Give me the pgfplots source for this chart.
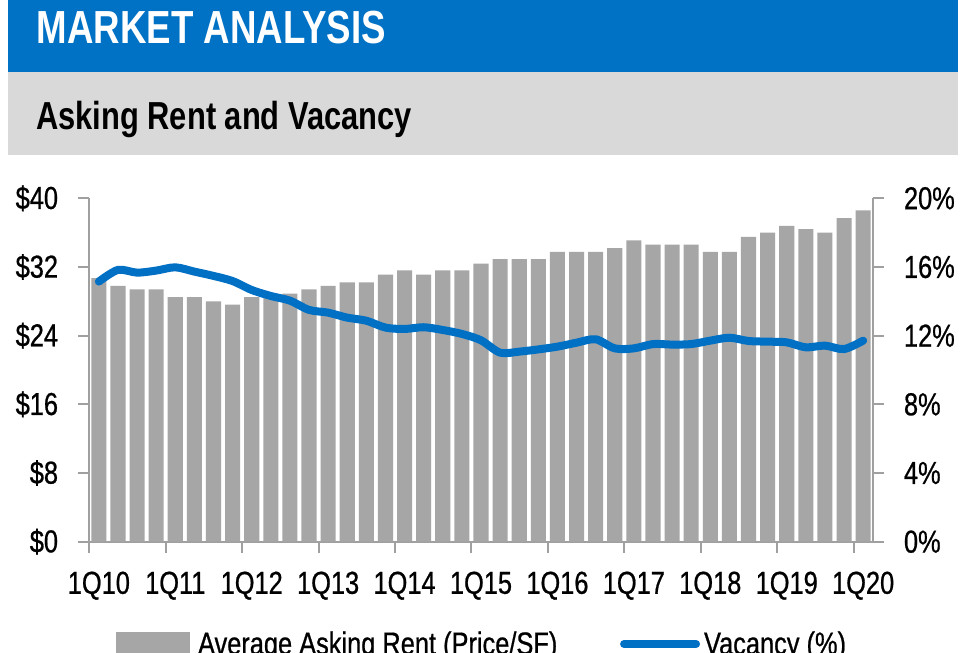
\documentclass[border=0pt]{standalone}
\usepackage{fontspec}
\setmainfont{Liberation Sans}[FakeStretch=0.79]
\newfontfamily\lblfont{Liberation Sans}[FakeStretch=0.8, FakeBold=0.7]
\usepackage{pgfplots}
\usepackage{pgfplotstable}
\pgfplotsset{compat=1.18}

\definecolor{hdrblue}{RGB}{0,114,198}
\definecolor{lineblue}{RGB}{0,112,196}
\definecolor{band}{RGB}{217,217,217}
\definecolor{bargray}{RGB}{166,166,166}
\definecolor{axisgray}{RGB}{160,160,160}

% quarter index (0 = 1Q10), asking rent in $/SF
\pgfplotstableread{
q rent
0 30.7
1 29.8
2 29.4
3 29.4
4 28.5
5 28.5
6 28.0
7 27.6
8 28.5
9 28.6
10 28.9
11 29.4
12 29.8
13 30.2
14 30.2
15 31.1
16 31.6
17 31.1
18 31.6
19 31.6
20 32.4
21 32.9
22 32.9
23 32.9
24 33.75
25 33.75
26 33.75
27 34.2
28 35.1
29 34.6
30 34.6
31 34.6
32 33.75
33 33.75
34 35.5
35 36.0
36 36.8
37 36.4
38 36.0
39 37.7
40 38.6
}\renttable

% vacancy in %
\pgfplotstableread{
q vac
0 15.15
1 15.83
2 15.67
3 15.79
4 15.98
5 15.73
6 15.48
7 15.18
8 14.66
9 14.31
10 14.04
11 13.50
12 13.34
13 13.05
14 12.87
15 12.47
16 12.39
17 12.49
18 12.33
19 12.10
20 11.73
21 11.01
22 11.07
23 11.20
24 11.36
25 11.59
26 11.79
27 11.26
28 11.26
29 11.51
30 11.48
31 11.51
32 11.71
33 11.88
34 11.69
35 11.65
36 11.61
37 11.32
38 11.42
39 11.22
40 11.71
}\vactable

\pgfplotsset{
  rentaxis/.style={
    at={(66.98pt,83.475pt)}, anchor=south west,
    scale only axis, width=587.55pt, height=257.55pt,
    xmin=-0.5, xmax=40.5,
    axis line style={draw=axisgray, line width=1.5pt, -},
    tick align=outside,
    major tick length=8.25pt, minor tick length=8.25pt,
    every tick/.style={draw=axisgray, line width=1.5pt},
    ticklabel style={font=\lblfont\fontsize{23.8}{28}\selectfont},
  }
}

\begin{document}
\begin{tikzpicture}
\begin{scope}
\clip (0,0) rectangle (720pt,489.75pt);
\fill[white] (0,0) rectangle (720pt,489.75pt);

\begin{scope}[x=0.75pt,y=-0.75pt,yshift=489.75pt]
  \fill[hdrblue] (8,0) rectangle (958,71.7);
  \fill[band] (8,71.7) rectangle (958,155.5);
  \node[anchor=base west, inner sep=0pt, text=white,
        font=\bfseries\fontsize{34.8}{40}\selectfont] at (36.5,43.3) {MARKET ANALYSIS};
  \node[anchor=base west, inner sep=0pt, text=black,
        font=\bfseries\fontsize{29.3}{34}\selectfont] at (36,130) {Asking Rent and Vacancy};
\end{scope}

\begin{axis}[rentaxis,
    ymin=0, ymax=40,
    axis x line*=bottom, axis y line*=left,
    ytick={0,8,...,40},
    yticklabels={\$0,\$8,\$16,\$24,\$32,\$40},
    yticklabel style={inner sep=0pt, xshift=-15pt},
    xtick={0,4,...,40},
    xticklabels={1Q10,1Q11,1Q12,1Q13,1Q14,1Q15,1Q16,1Q17,1Q18,1Q19,1Q20},
    minor xtick={-0.5,3.5,...,39.5},
    major x tick style={draw=none},
    xticklabel style={inner sep=0pt, yshift=-14pt},
  ]
  \addplot[ybar, bar width=0.79, fill=bargray, draw=none] table[x=q, y=rent] {\renttable};
\end{axis}

\begin{axis}[rentaxis,
    ymin=0, ymax=20,
    axis x line=none, axis y line*=right,
    ytick={0,4,...,20},
    yticklabels={0\%,4\%,8\%,12\%,16\%,20\%},
    yticklabel style={inner sep=0pt, xshift=15pt},
    legend columns=2,
    legend style={draw=none, fill=none, at={(0.5,0)}, anchor=center, yshift=-76.7pt,
      font=\lblfont\fontsize{23.8}{28}\selectfont,
      nodes={inner sep=0pt},
      /tikz/every odd column/.append style={column sep=3pt},
      /tikz/every even column/.append style={column sep=47pt}},
  ]
  \addlegendimage{legend image code/.code={
      \fill[bargray] (0pt,-8pt) rectangle (54.5pt,8.5pt);
      \path (58.2pt,0pt);}}
  \addlegendentry{Average Asking Rent (Price/SF)}
  \addplot[lineblue, line width=6pt, line cap=round, smooth, no markers,
    legend image code/.code={
      \draw[lineblue, line width=6pt, line cap=round] (3pt,0pt) -- (57pt,0pt);}]
    table[x=q, y=vac] {\vactable};
  \addlegendentry{Vacancy (\%)}
\end{axis}
\end{scope}
\pgfresetboundingbox
\useasboundingbox (0,0) rectangle (720pt,489.75pt);
\end{tikzpicture}
\end{document}
